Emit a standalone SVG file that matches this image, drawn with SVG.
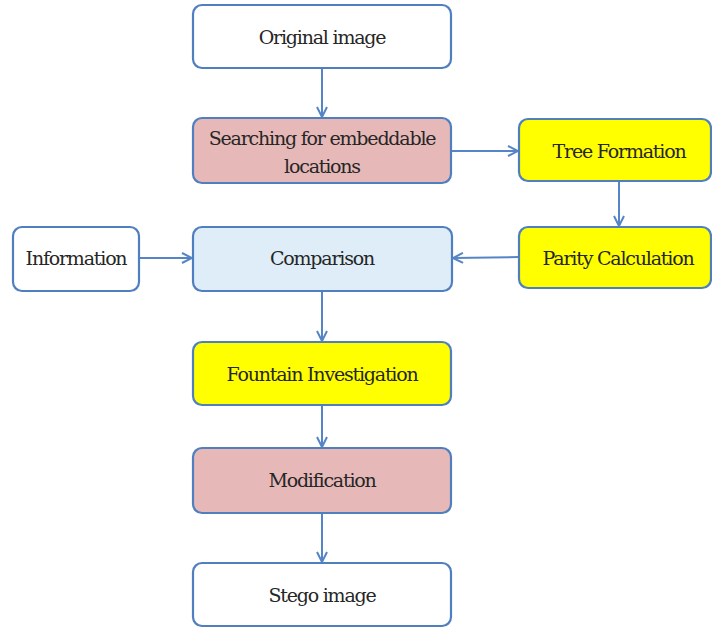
<svg xmlns="http://www.w3.org/2000/svg" width="712" height="628" viewBox="0 0 712 628">
  <style>
    .box { stroke: #4f7fbf; stroke-width: 2.2; }
    .white { fill: #ffffff; }
    .pink { fill: #e6b9b8; }
    .yellow { fill: #ffff00; }
    .blue { fill: #deedf8; }
    .label { font-family: "DejaVu Serif", "Liberation Serif", serif; font-size: 19px; fill: #262626; text-anchor: middle; letter-spacing: -1.2px; }
    .conn { stroke: #5585c6; stroke-width: 2; fill: none; marker-end: url(#arrow); }
  </style>
  <defs>
    <marker id="arrow" viewBox="0 0 12 12" refX="11" refY="6" markerWidth="12" markerHeight="12" markerUnits="userSpaceOnUse" orient="auto">
      <path d="M1,1 L11,6 L1,11" fill="none" stroke="#5585c6" stroke-width="2"/>
    </marker>
  </defs>

  <g id="connectors">
    <line class="conn" x1="322" y1="69" x2="322" y2="117"/>
    <line class="conn" x1="451" y1="151" x2="518" y2="151"/>
    <line class="conn" x1="619" y1="182" x2="619" y2="226"/>
    <line class="conn" x1="519" y1="257" x2="453" y2="258"/>
    <line class="conn" x1="139" y1="258" x2="192" y2="258"/>
    <line class="conn" x1="322" y1="292" x2="322" y2="341"/>
    <line class="conn" x1="322" y1="406" x2="322" y2="447"/>
    <line class="conn" x1="322" y1="514" x2="322" y2="562"/>
  </g>

  <g id="original-image">
    <rect class="box white" x="193" y="5" width="258" height="63" rx="9"/>
    <text class="label" x="322" y="44">Original image</text>
  </g>
  <g id="searching">
    <rect class="box pink" x="193" y="118" width="258" height="65" rx="9"/>
    <text class="label" x="322" y="145">Searching for embeddable</text>
    <text class="label" x="322" y="173">locations</text>
  </g>
  <g id="tree-formation">
    <rect class="box yellow" x="519" y="119" width="192" height="62" rx="9"/>
    <text class="label" x="619" y="158">Tree Formation</text>
  </g>
  <g id="parity-calculation">
    <rect class="box yellow" x="519" y="227" width="192" height="61" rx="9"/>
    <text class="label" x="618" y="265">Parity Calculation</text>
  </g>
  <g id="information">
    <rect class="box white" x="13" y="227" width="126" height="64" rx="9"/>
    <text class="label" x="76" y="265">Information</text>
  </g>
  <g id="comparison">
    <rect class="box blue" x="193" y="227" width="259" height="64" rx="9"/>
    <text class="label" x="322" y="265">Comparison</text>
  </g>
  <g id="fountain-investigation">
    <rect class="box yellow" x="193" y="342" width="258" height="63" rx="9"/>
    <text class="label" x="322" y="381">Fountain Investigation</text>
  </g>
  <g id="modification">
    <rect class="box pink" x="193" y="448" width="258" height="65" rx="9"/>
    <text class="label" x="322" y="487">Modification</text>
  </g>
  <g id="stego-image">
    <rect class="box white" x="193" y="563" width="258" height="63" rx="9"/>
    <text class="label" x="322" y="602">Stego image</text>
  </g>
</svg>
